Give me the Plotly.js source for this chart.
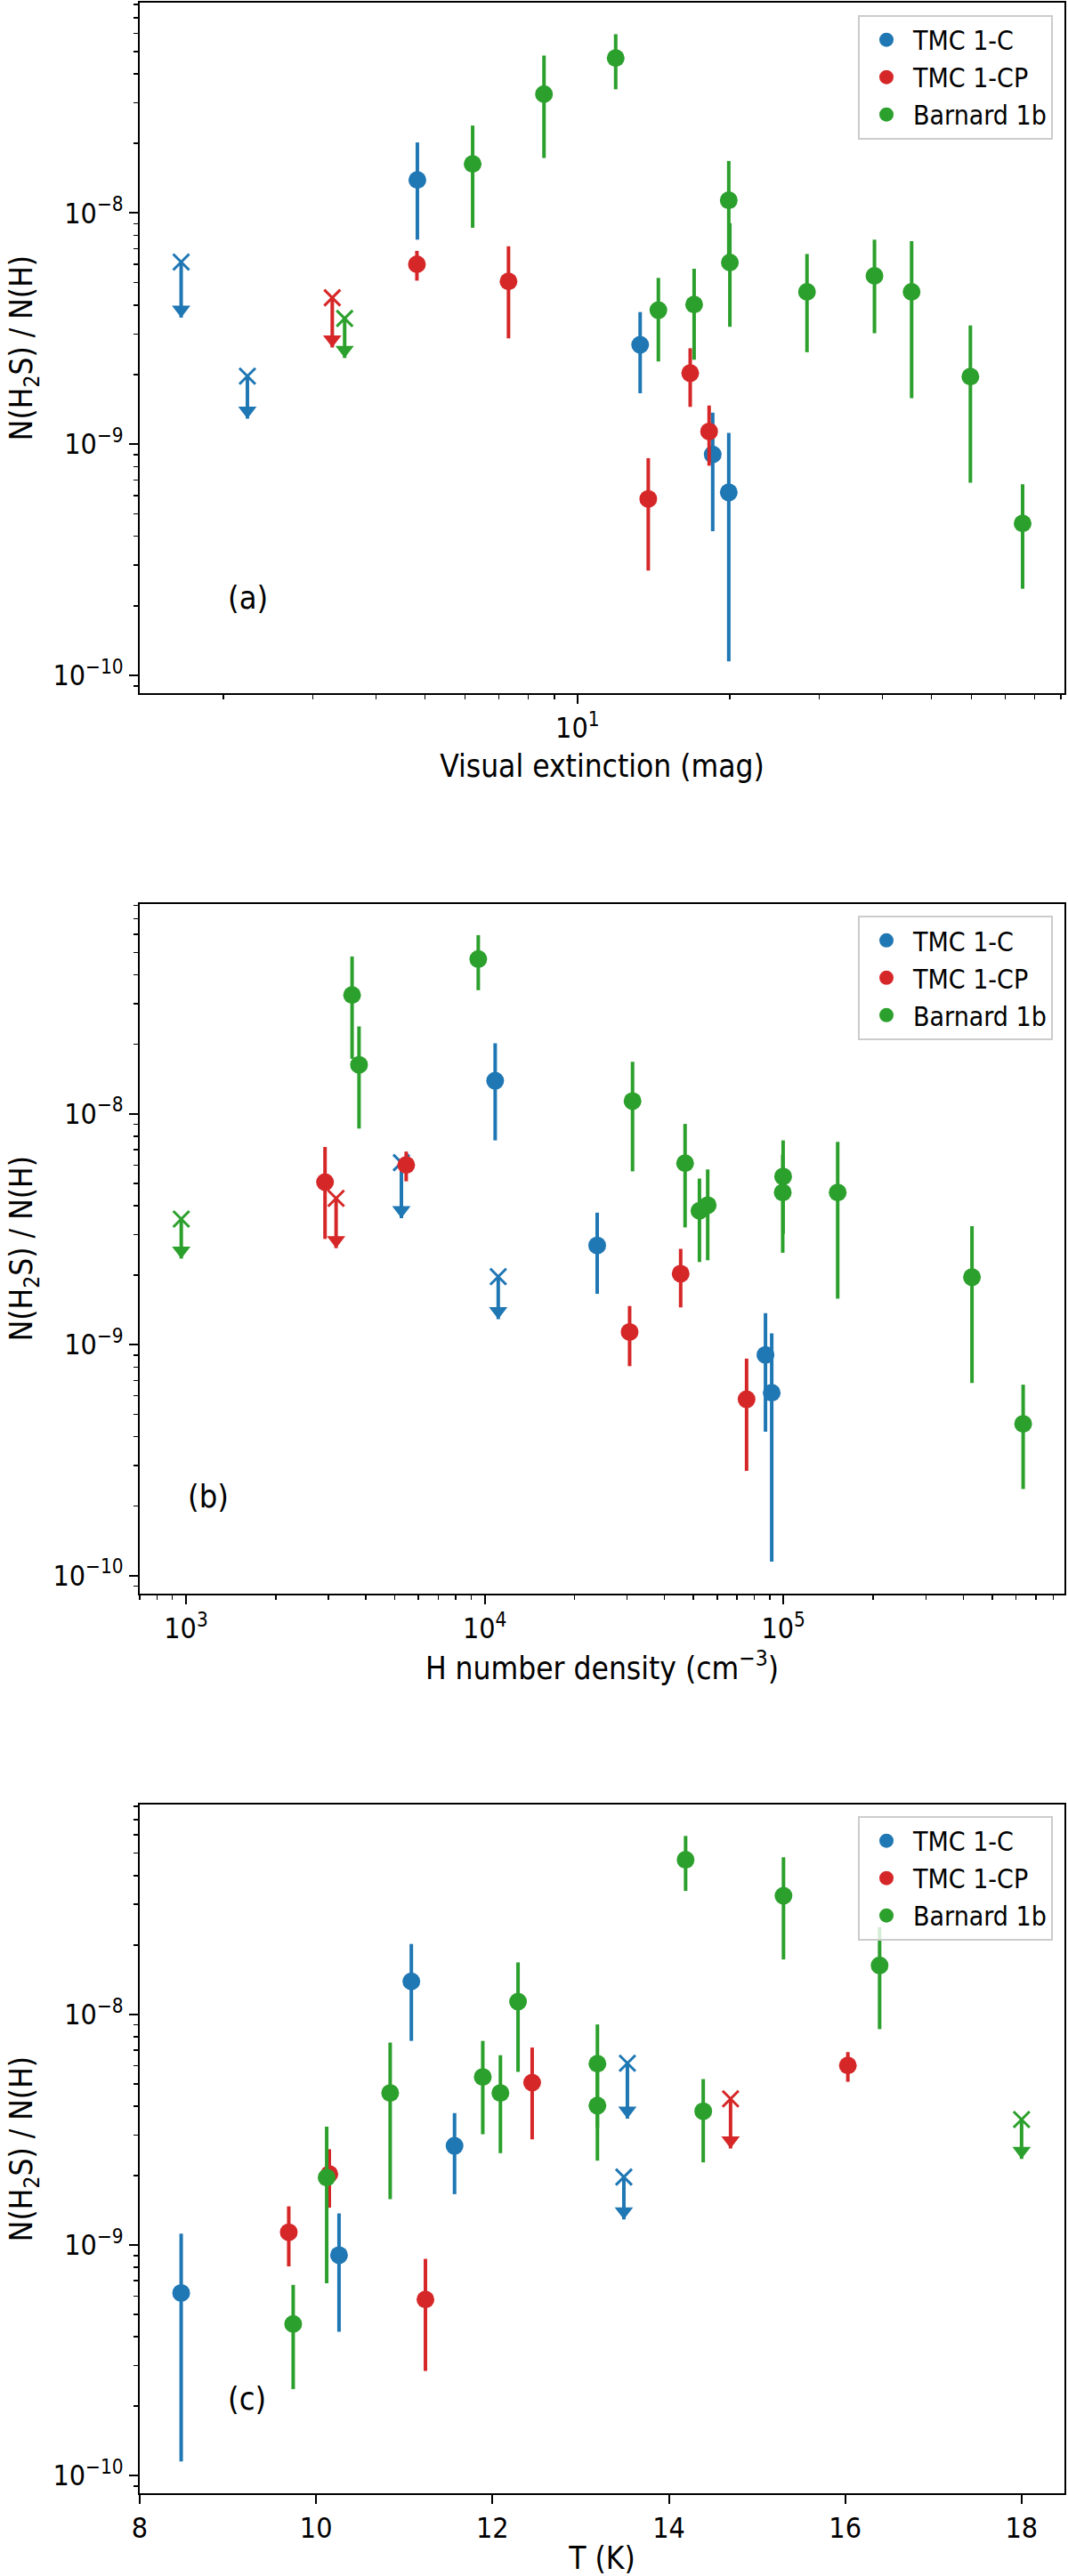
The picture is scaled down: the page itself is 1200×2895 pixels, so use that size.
<!DOCTYPE html>
<html>
<head>
<meta charset="utf-8">
<script src="https://cdn.plot.ly/plotly-3.0.1.min.js"></script>
<style>
  body { margin: 0; background: #fff; }
  #h2sPlot { width: 1200px; height: 2895px; }
</style>
</head>
<body>
<div id="h2sPlot"></div>
<script>
// ---- TMC 1-C ----
var tmc1cAv    = [4.83, 13.3, 18.5, 19.9];
var tmc1cDens  = [10840, 23800, 87100, 91400];
var tmc1cTemp  = [11.08, 11.57, 10.26, 8.47];
var tmc1cRatio = [1.39e-8, 2.69e-9, 9.03e-10, 6.19e-10];
var tmc1cHigh  = [2.02e-8, 3.73e-9, 1.37e-9, 1.12e-9];
var tmc1cLow   = [7.67e-9, 1.66e-9, 4.2e-10, 1.15e-10];
// upper limits
var tmc1cLimAv    = [1.65, 2.23];
var tmc1cLimDens  = [5260, 11100];
var tmc1cLimTemp  = [13.53, 13.49];
var tmc1cLimRatio = [6.14e-9, 1.97e-9];
var tmc1cLimArrow = [3.53e-9, 1.29e-9];

// ---- TMC 1-CP ----
var tmc1cpAv    = [4.82, 7.31, 13.8, 16.7, 18.2];
var tmc1cpDens  = [5460, 2920, 75300, 45300, 30560];
var tmc1cpTemp  = [16.03, 12.45, 11.24, 10.15, 9.69];
var tmc1cpRatio = [6.0e-9, 5.06e-9, 5.8e-10, 2.03e-9, 1.135e-9];
var tmc1cpHigh  = [6.86e-9, 7.18e-9, 8.7e-10, 2.6e-9, 1.47e-9];
var tmc1cpLow   = [5.1e-9, 2.87e-9, 2.84e-10, 1.45e-9, 8.07e-10];
var tmc1cpLimAv    = [3.28];
var tmc1cpLimDens  = [3180];
var tmc1cpLimTemp  = [14.70];
var tmc1cpLimRatio = [4.30e-9];
var tmc1cpLimArrow = [2.62e-9];

// ---- Barnard 1b ----
var b1bAv    = [6.21, 8.59, 11.9, 14.45, 17.0, 19.9, 20.0, 28.4, 38.6, 45.7, 59.7, 75.7];
var b1bDens  = [3795, 3597, 9515, 52360, 55800, 31260, 46870, 99500, 99800, 152000, 428000, 635000];
var b1bTemp  = [16.39, 15.30, 14.19, 14.39, 13.19, 12.29, 13.19, 12.09, 11.89, 10.84, 10.12, 9.74];
var b1bRatio = [1.63e-8, 3.27e-8, 4.68e-8, 3.8e-9, 4.02e-9, 1.135e-8, 6.11e-9, 4.56e-9, 5.35e-9, 4.56e-9, 1.96e-9, 4.54e-10];
var b1bHigh  = [2.39e-8, 4.8e-8, 5.94e-8, 5.24e-9, 5.74e-9, 1.68e-8, 9.04e-9, 6.65e-9, 7.67e-9, 7.55e-9, 3.26e-9, 6.71e-10];
var b1bLow   = [8.63e-9, 1.73e-8, 3.43e-8, 2.28e-9, 2.32e-9, 5.63e-9, 3.22e-9, 2.5e-9, 3.02e-9, 1.58e-9, 6.82e-10, 2.37e-10];
var b1bLimAv    = [3.47];
var b1bLimDens  = [964];
var b1bLimTemp  = [18.0];
var b1bLimRatio = [3.50e-9];
var b1bLimArrow = [2.36e-9];

// tick labels
var yTickVals = [1e-10, 1e-9, 1e-8];
var yTickText = ['10<sup>\u221210</sup>', '10<sup>\u22129</sup>', '10<sup>\u22128</sup>'];
var avTickVals = [10];
var avTickText = ['10<sup>1</sup>'];
var densTickVals = [1e3, 1e4, 1e5];
var densTickText = ['10<sup>3</sup>', '10<sup>4</sup>', '10<sup>5</sup>'];

var series = [
    {name: 'TMC 1-C', color: '#1f77b4',
     av: tmc1cAv, dens: tmc1cDens, temp: tmc1cTemp,
     ratio: tmc1cRatio, high: tmc1cHigh, low: tmc1cLow,
     limAv: tmc1cLimAv, limDens: tmc1cLimDens, limTemp: tmc1cLimTemp,
     limRatio: tmc1cLimRatio, limArrow: tmc1cLimArrow},
    {name: 'TMC 1-CP', color: '#d62728',
     av: tmc1cpAv, dens: tmc1cpDens, temp: tmc1cpTemp,
     ratio: tmc1cpRatio, high: tmc1cpHigh, low: tmc1cpLow,
     limAv: tmc1cpLimAv, limDens: tmc1cpLimDens, limTemp: tmc1cpLimTemp,
     limRatio: tmc1cpLimRatio, limArrow: tmc1cpLimArrow},
    {name: 'Barnard 1b', color: '#2ca02c',
     av: b1bAv, dens: b1bDens, temp: b1bTemp,
     ratio: b1bRatio, high: b1bHigh, low: b1bLow,
     limAv: b1bLimAv, limDens: b1bLimDens, limTemp: b1bLimTemp,
     limRatio: b1bLimRatio, limArrow: b1bLimArrow}
];

var yRange = [-10.077, -7.09];
var pxPerDecade = 776 / (yRange[1] - yRange[0]);
// lift the arrow head so its point sits at the end of the limit line
var headShift = Math.pow(10, 9 / pxPerDecade);

var FONT = '"DejaVu Sans Condensed", "DejaVu Sans", sans-serif';

function minorTicks(e0, e1) {
    var vals = [];
    for (var e = e0; e <= e1; e++) {
        for (var m = 2; m <= 9; m++) vals.push(m * Math.pow(10, e));
    }
    return vals;
}

function seriesTraces(s, key, xa, ya, leg) {
    var limKey = 'lim' + key.charAt(0).toUpperCase() + key.slice(1);
    var limits = {
        type: 'scatter', mode: 'markers', showlegend: false, hoverinfo: 'skip',
        x: s[limKey], y: s.limRatio, xaxis: xa, yaxis: ya,
        marker: {symbol: 'x-thin-open', size: 18, color: s.color, line: {color: s.color, width: 3}},
        error_y: {type: 'data', symmetric: false,
                  array: s.limRatio.map(function() { return 0; }),
                  arrayminus: s.limRatio.map(function(v, i) { return v - s.limArrow[i]; }),
                  thickness: 4, width: 0, color: s.color}
    };
    var heads = {
        type: 'scatter', mode: 'markers', showlegend: false, hoverinfo: 'skip',
        x: s[limKey], y: s.limArrow.map(function(a) { return a * headShift; }),
        xaxis: xa, yaxis: ya,
        marker: {symbol: 'triangle-down', size: 18, color: s.color}
    };
    var points = {
        type: 'scatter', mode: 'markers', name: s.name, legend: leg,
        x: s[key], y: s.ratio, xaxis: xa, yaxis: ya,
        marker: {symbol: 'circle', size: 20, color: s.color},
        error_y: {type: 'data', symmetric: false,
                  array: s.high.map(function(h, i) { return h - s.ratio[i]; }),
                  arrayminus: s.ratio.map(function(v, i) { return v - s.low[i]; }),
                  thickness: 4, width: 0, color: s.color}
    };
    return [limits, heads, points];
}

var traces = [];
var panels = [
    {key: 'av',   xa: 'x',  ya: 'y',  leg: 'legend'},
    {key: 'dens', xa: 'x2', ya: 'y2', leg: 'legend2'},
    {key: 'temp', xa: 'x3', ya: 'y3', leg: 'legend3'}
];
panels.forEach(function(p) {
    series.forEach(function(s) {
        traces = traces.concat(seriesTraces(s, p.key, p.xa, p.ya, p.leg));
    });
});

function axisStyle(extra) {
    var ax = {
        showline: true, linecolor: '#000', linewidth: 2, mirror: true,
        ticks: 'outside', ticklen: 10, tickwidth: 2, tickcolor: '#000',
        showgrid: false, zeroline: false, automargin: false,
        tickfont: {size: 32, color: '#000'}
    };
    for (var k in extra) ax[k] = extra[k];
    return ax;
}

function logMinor(e0, e1) {
    return {tickmode: 'array', tickvals: minorTicks(e0, e1), ticks: 'outside',
            ticklen: 5, tickwidth: 1.5, tickcolor: '#000', showgrid: false};
}

var yTitle = 'N(H<sub>2</sub>S) / N(H)';

function yAxis(domain, xa) {
    return axisStyle({
        type: 'log', range: yRange, domain: domain, anchor: xa,
        tickmode: 'array', tickvals: yTickVals, ticktext: yTickText,
        minor: logMinor(-11, -8),
        title: {text: yTitle, font: {size: 35, color: '#000'}, standoff: 12}
    });
}

function legendBox(top) {
    return {x: 0.9875, xanchor: 'right', y: top, yanchor: 'top',
            font: {size: 30, color: '#000'}, bgcolor: 'rgba(255,255,255,0.8)',
            bordercolor: '#cccccc', borderwidth: 2, itemwidth: 50};
}

function panelLabel(txt, xa, ya, x, y) {
    return {text: txt, xref: xa + ' domain', yref: ya + ' domain', x: x, y: y,
            xanchor: 'center', yanchor: 'middle',
            showarrow: false, font: {size: 36, color: '#000'}};
}

var layout = {
    width: 1200, height: 2895,
    margin: {l: 157, r: 4, t: 3, b: 93},
    paper_bgcolor: '#fff', plot_bgcolor: '#fff',
    font: {family: FONT, color: '#000'},
    xaxis: axisStyle({
        type: 'log', range: [0.1357, 1.9617], anchor: 'y',
        tickmode: 'array', tickvals: avTickVals, ticktext: avTickText,
        minor: logMinor(0, 1),
        title: {text: 'Visual extinction (mag)', font: {size: 35, color: '#000'}, standoff: 12}
    }),
    yaxis: yAxis([0.72276, 1.0], 'x'),
    xaxis2: axisStyle({
        type: 'log', range: [2.845, 5.941], anchor: 'y2',
        tickmode: 'array', tickvals: densTickVals, ticktext: densTickText,
        minor: logMinor(2, 5),
        title: {text: 'H number density (cm<sup>\u22123</sup>)', font: {size: 35, color: '#000'}, standoff: 12}
    }),
    yaxis2: yAxis([0.36134, 0.63823], 'x2'),
    xaxis3: axisStyle({
        type: 'linear', range: [8.0, 18.486], anchor: 'y3',
        tick0: 8, dtick: 2,
        title: {text: 'T (K)', font: {size: 35, color: '#000'}, standoff: 12}
    }),
    yaxis3: yAxis([0, 0.27653], 'x3'),
    legend: legendBox(0.9951),
    legend2: legendBox(0.6335),
    legend3: legendBox(0.2720),
    annotations: [
        panelLabel('(a)', 'x', 'y', 0.117, 0.138),
        panelLabel('(b)', 'x2', 'y2', 0.074, 0.141),
        panelLabel('(c)', 'x3', 'y3', 0.116, 0.138)
    ]
};

Plotly.newPlot('h2sPlot', traces, layout, {displayModeBar: false, staticPlot: true});
</script>
</body>
</html>
